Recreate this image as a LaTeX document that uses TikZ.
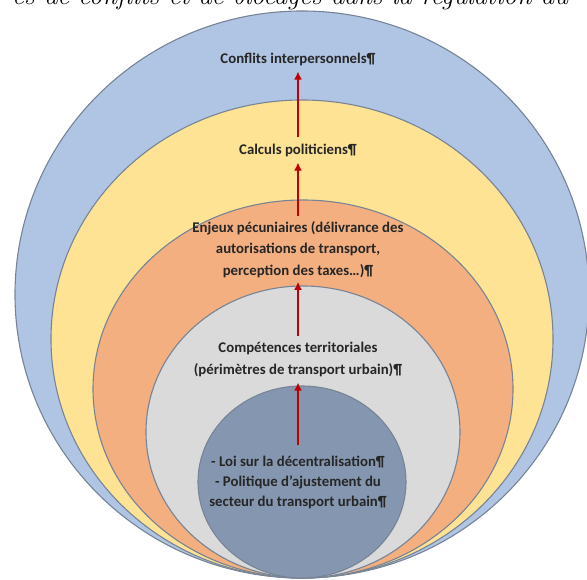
\documentclass[tikz,border=0pt]{standalone}
\usepackage{fontspec}
\setsansfont{Carlito}
\usepackage{tikz}
\usetikzlibrary{arrows.meta}
\definecolor{ringblue}{RGB}{176,196,228}
\definecolor{ringyellow}{RGB}{255,227,148}
\definecolor{ringorange}{RGB}{243,175,128}
\definecolor{ringgrey}{RGB}{218,218,218}
\definecolor{coreblue}{RGB}{133,151,176}
\definecolor{rimgrey}{RGB}{118,132,150}
\definecolor{arrowred}{RGB}{192,0,0}

\begin{document}
\begin{tikzpicture}[x=1pt, y=1pt,
  ring/.style={draw=rimgrey, line width=1.1pt},
  lbl/.style={align=center, font=\sffamily\bfseries\fontsize{14.8}{21.5}\selectfont, text=black!85, inner sep=2pt},
  arr/.style={-{Latex[length=8pt,width=8pt]}, line width=2pt, color=arrowred}]
  \clip (0,0) rectangle (587,580);
  \node[anchor=base, font=\itshape\fontsize{26.5}{28}\selectfont, inner sep=0pt] (caption) at (290,575) {es de conflits et de blocages dans la régulation du};

  \filldraw[ring, fill=ringblue] (302,285.5) ellipse [x radius=287, y radius=283.5];
  \filldraw[ring, fill=ringyellow] (302,241) ellipse [x radius=251, y radius=239];
  \filldraw[ring, fill=ringorange] (303,191) ellipse [x radius=210, y radius=189];
  \filldraw[ring, fill=ringgrey] (303,148) ellipse [x radius=157, y radius=146];
  \filldraw[ring, fill=coreblue] (302,98) ellipse [x radius=104, y radius=96];

  \node[lbl] (conflits) at (298,521) {Conflits interpersonnels¶};
  \node[lbl] (calculs) at (298,430) {Calculs politiciens¶};
  \node[lbl] (enjeux) at (298,330.5) {Enjeux pécuniaires (délivrance des\\autorisations de transport,\\perception des taxes…)¶};
  \node[lbl, font=\sffamily\bfseries\fontsize{14.8}{22}\selectfont] (competences) at (298,221) {Compétences territoriales\\(périmètres de transport urbain)¶};
  \node[lbl, font=\sffamily\bfseries\fontsize{14.8}{20}\selectfont] (loi) at (298,98) {- Loi sur la décentralisation¶\\- Politique d’ajustement du\\secteur du transport urbain¶};

  \draw[arr, shorten <=8pt, shorten >=4pt] (loi) -- (competences);
  \draw[arr, shorten <=3pt, shorten >=2pt] (competences) -- (enjeux);
  \draw[arr, shorten <=3pt, shorten >=4pt] (enjeux) -- (calculs);
  \draw[arr, shorten <=4pt, shorten >=4pt] (calculs) -- (conflits);
\end{tikzpicture}
\end{document}
